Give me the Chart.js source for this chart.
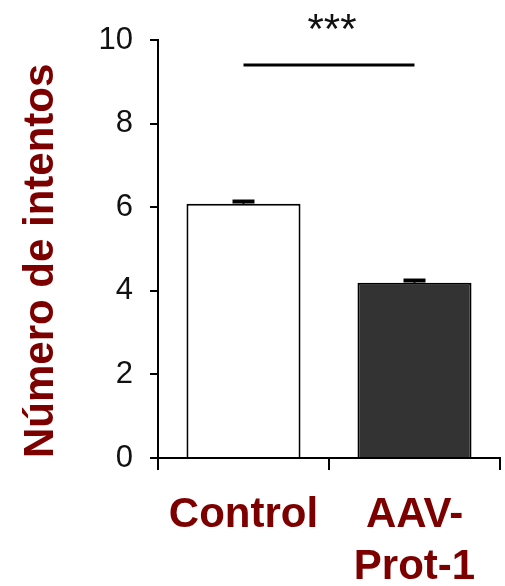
<!DOCTYPE html>
<html lang="es">
<head>
  <meta charset="UTF-8">
  <title>Número de intentos</title>
  <script src="https://cdnjs.cloudflare.com/ajax/libs/Chart.js/4.4.1/chart.umd.min.js"></script>
  <style>
    body { margin: 0; background: #fff; }
    #wrap { width: 505px; height: 586px; }
  </style>
</head>
<body>
  <div id="wrap"><canvas id="chart"></canvas></div>
  <script>
    // datos
    const categorias = ['Control', ['AAV-', 'Prot-1']];
    const medias = [6.08, 4.19];
    const errores = [0.08, 0.08];
    const yTicks = [0, 2, 4, 6, 8, 10];
    const nivelSignificancia = 9.4;
    const textoSignificancia = '***';

    const rojo = '#7d0000';
    const fuente = '"Liberation Sans", Arial, sans-serif';

    // barras de error y línea de significancia
    const extras = {
      id: 'extras',
      afterDatasetsDraw(chart) {
        const ctx = chart.ctx;
        const x = chart.scales.x, y = chart.scales.y;
        ctx.save();
        ctx.strokeStyle = '#000';
        medias.forEach((m, i) => {
          const px = x.getPixelForValue(i);
          const top = y.getPixelForValue(m + errores[i]);
          const base = y.getPixelForValue(m);
          ctx.lineWidth = 2;
          ctx.beginPath();
          ctx.moveTo(px, base);
          ctx.lineTo(px, top);
          ctx.stroke();
          ctx.lineWidth = 4;
          ctx.beginPath();
          ctx.moveTo(px - 11, top + 1);
          ctx.lineTo(px + 11, top + 1);
          ctx.stroke();
        });
        const sy = y.getPixelForValue(nivelSignificancia);
        const x0 = x.getPixelForValue(0), x1 = x.getPixelForValue(1);
        ctx.lineWidth = 3;
        ctx.beginPath();
        ctx.moveTo(x0, sy);
        ctx.lineTo(x1, sy);
        ctx.stroke();
        ctx.fillStyle = '#111';
        ctx.font = '42px ' + fuente;
        ctx.textAlign = 'center';
        ctx.textBaseline = 'alphabetic';
        ctx.fillText(textoSignificancia, (x0 + x1) / 2 + 3, sy - 22);
        ctx.restore();
      }
    };

    new Chart(document.getElementById('chart'), {
      type: 'bar',
      data: {
        labels: categorias,
        datasets: [{
          data: medias,
          backgroundColor: ['#ffffff', '#333333'],
          borderColor: '#000',
          borderWidth: 2,
          barPercentage: 0.667,
          categoryPercentage: 1
        }]
      },
      options: {
        responsive: true,
        maintainAspectRatio: false,
        animation: false,
        layout: { padding: { top: 40, right: 5, left: 0, bottom: 0 } },
        plugins: { legend: { display: false }, tooltip: { enabled: false } },
        scales: {
          x: {
            afterFit(scale) { scale.height = 128; },
            grid: { drawOnChartArea: false, color: '#000', lineWidth: 2, tickLength: 12 },
            border: { color: '#000', width: 2 },
            ticks: {
              color: rojo,
              padding: 19,
              maxRotation: 0,
              font: { family: fuente, size: 42, weight: 'bold', lineHeight: 1.24 }
            }
          },
          y: {
            min: 0,
            max: 10,
            afterFit(scale) { scale.width = 158; },
            afterBuildTicks(scale) { scale.ticks = yTicks.map(v => ({ value: v })); },
            grid: { drawOnChartArea: false, color: '#000', lineWidth: 2, tickLength: 8 },
            border: { color: '#000', width: 2 },
            ticks: {
              color: '#111',
              padding: 17,
              font: { family: fuente, size: 31 }
            },
            title: {
              display: true,
              text: 'Número de intentos',
              align: 'start',
              color: rojo,
              padding: { top: 16, bottom: 0 },
              font: { family: fuente, size: 42, weight: 'bold', lineHeight: 1.2 }
            }
          }
        }
      },
      plugins: [extras]
    });
  </script>
</body>
</html>
